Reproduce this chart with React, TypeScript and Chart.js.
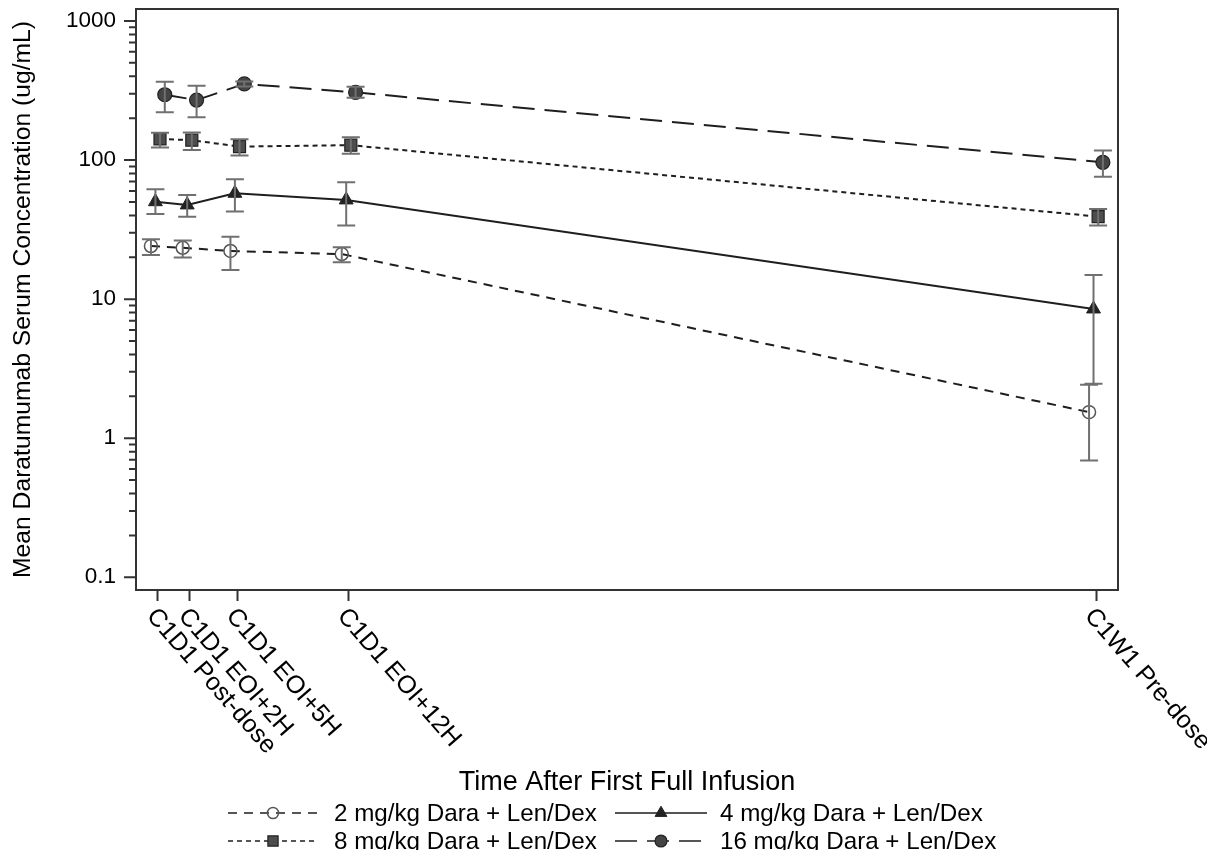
import React, { useEffect, useRef } from 'react';
import { Chart, registerables } from 'chart.js';

Chart.register(...registerables);

const categories = ['C1D1 Post-dose', 'C1D1 EOI+2H', 'C1D1 EOI+5H', 'C1D1 EOI+12H', 'C1W1 Pre-dose'];
const timeHours = [0, 2, 5, 12, 59];
const seriesNames = ['2 mg/kg Dara + Len/Dex', '4 mg/kg Dara + Len/Dex', '8 mg/kg Dara + Len/Dex', '16 mg/kg Dara + Len/Dex'];
const dodgeHours = [-0.44, -0.16, 0.13, 0.43];

const mean2 = [24.1, 23.4, 22.2, 21.1, 1.54];
const upper2 = [27.0, 26.4, 28.1, 23.6, 2.42];
const lower2 = [20.8, 19.9, 16.2, 18.4, 0.69];

const mean4 = [50.2, 47.6, 57.7, 51.7, 8.5];
const upper4 = [61.7, 56.0, 72.8, 69.2, 14.9];
const lower4 = [41.0, 39.2, 42.6, 33.8, 2.46];

const mean8 = [142, 139, 125, 128, 39.2];
const upper8 = [157, 158, 141, 146, 44.5];
const lower8 = [123, 118, 108, 111, 33.8];

const mean16 = [295, 270, 353, 307, 96.4];
const upper16 = [366, 343, 368, 337, 117];
const lower16 = [221, 203, 338, 281, 76];

const yMajorTicks = [0.1, 1, 10, 100, 1000];
const yMinorMultipliers = [2, 3, 4, 5, 6, 7, 8, 9];

const yTitle = 'Mean Daratumumab Serum Concentration (ug/mL)';
const xTitle = 'Time After First Full Infusion';

const means = [mean2, mean4, mean8, mean16];
const uppers = [upper2, upper4, upper8, upper16];
const lowers = [lower2, lower4, lower8, lower16];

const FONT = '"Liberation Sans", Arial, Helvetica, sans-serif';
const LINE = '#1e1e1e';
const FRAME = '#333333';
const ERR = '#707070';
const LABEL_ANGLE = (49 * Math.PI) / 180;

const styles = [
  { dash: [9, 7], pointStyle: 'circle', radius: 6.5, fill: 'rgba(0,0,0,0)', stroke: '#555555', pbw: 1.5 },
  { dash: [], pointStyle: 'triangle', radius: 8, fill: '#222222', stroke: '#222222', pbw: 1 },
  { dash: [5, 4], pointStyle: 'rect', radius: 8.5, fill: '#4d4d4d', stroke: '#222222', pbw: 1.2 },
  { dash: [22, 10], pointStyle: 'circle', radius: 7, fill: '#444444', stroke: '#222222', pbw: 1.2 },
];

function drawMarker(ctx: CanvasRenderingContext2D, style: string, x: number, y: number, r: number, fill: string, stroke: string, lw: number) {
  ctx.save();
  ctx.setLineDash([]);
  ctx.beginPath();
  if (style === 'circle') {
    ctx.arc(x, y, r, 0, Math.PI * 2);
  } else if (style === 'triangle') {
    ctx.moveTo(x, y - r);
    ctx.lineTo(x + r * Math.sin((2 * Math.PI) / 3), y - r * Math.cos((2 * Math.PI) / 3));
    ctx.lineTo(x + r * Math.sin((4 * Math.PI) / 3), y - r * Math.cos((4 * Math.PI) / 3));
    ctx.closePath();
  } else {
    const s = r * Math.SQRT1_2;
    ctx.rect(x - s, y - s, 2 * s, 2 * s);
  }
  ctx.fillStyle = fill;
  ctx.fill();
  ctx.lineWidth = lw;
  ctx.strokeStyle = stroke;
  ctx.stroke();
  ctx.restore();
}

const customPlugin = {
  id: 'customDecor',
  afterDatasetsDraw(chart: any) {
    const ctx = chart.ctx as CanvasRenderingContext2D;
    const xs = chart.scales.x;
    const ys = chart.scales.y;
    ctx.save();
    ctx.strokeStyle = ERR;
    ctx.lineWidth = 2;
    ctx.setLineDash([]);
    for (let i = 0; i < means.length; i++) {
      for (let j = 0; j < timeHours.length; j++) {
        const px = xs.getPixelForValue(timeHours[j] + dodgeHours[i]);
        const pu = ys.getPixelForValue(uppers[i][j]);
        const pl = ys.getPixelForValue(lowers[i][j]);
        ctx.beginPath();
        ctx.moveTo(px, pu);
        ctx.lineTo(px, pl);
        ctx.moveTo(px - 9, pu);
        ctx.lineTo(px + 9, pu);
        ctx.moveTo(px - 9, pl);
        ctx.lineTo(px + 9, pl);
        ctx.stroke();
      }
    }
    ctx.restore();
  },
  afterDraw(chart: any) {
    const ctx = chart.ctx as CanvasRenderingContext2D;
    const ca = chart.chartArea;
    const xs = chart.scales.x;
    const ys = chart.scales.y;
    ctx.save();
    // frame
    ctx.strokeStyle = FRAME;
    ctx.lineWidth = 2;
    ctx.setLineDash([]);
    ctx.strokeRect(ca.left, ca.top, ca.right - ca.left, ca.bottom - ca.top);
    // y ticks (major + minor)
    ctx.beginPath();
    for (const major of yMajorTicks) {
      const py = ys.getPixelForValue(major);
      ctx.moveTo(ca.left - 12, py);
      ctx.lineTo(ca.left, py);
      for (const m of yMinorMultipliers) {
        const v = major * m;
        if (v > ys.max) continue;
        const pm = ys.getPixelForValue(v);
        ctx.moveTo(ca.left - 7, pm);
        ctx.lineTo(ca.left, pm);
      }
    }
    ctx.stroke();
    // x tick labels rotated
    ctx.fillStyle = '#000';
    ctx.font = `25px ${FONT}`;
    ctx.textAlign = 'left';
    ctx.textBaseline = 'middle';
    categories.forEach((c, i) => {
      const px = xs.getPixelForValue(timeHours[i]);
      ctx.save();
      ctx.translate(px - 7, ca.bottom + 22);
      ctx.rotate(LABEL_ANGLE);
      ctx.fillText(c, 0, 0);
      ctx.restore();
    });
    // x title
    ctx.font = `27px ${FONT}`;
    ctx.textAlign = 'center';
    ctx.fillText(xTitle, (ca.left + ca.right) / 2, 775);
    // legend
    const cols = [
      { x0: 220, x1: 310, tx: 326 },
      { x0: 607, x1: 699, tx: 712 },
    ];
    const rows = [805, 833];
    ctx.font = `24.2px ${FONT}`;
    ctx.textAlign = 'left';
    for (let i = 0; i < seriesNames.length; i++) {
      const col = cols[i % 2];
      const y = rows[Math.floor(i / 2)];
      const st = styles[i];
      ctx.save();
      ctx.strokeStyle = '#555555';
      ctx.lineWidth = 2;
      ctx.setLineDash(st.dash);
      ctx.beginPath();
      ctx.moveTo(col.x0, y);
      ctx.lineTo(col.x1, y);
      ctx.stroke();
      ctx.restore();
      drawMarker(ctx, st.pointStyle, (col.x0 + col.x1) / 2, y, st.radius * 0.85, st.fill, st.stroke, st.pbw);
      ctx.fillStyle = '#000';
      ctx.fillText(seriesNames[i], col.tx, y + 1);
    }
    ctx.restore();
  },
};

export default function App() {
  const canvasRef = useRef<HTMLCanvasElement | null>(null);

  useEffect(() => {
    if (!canvasRef.current) return;
    const datasets = seriesNames.map((name, i) => ({
      label: name,
      data: timeHours.map((t, j) => ({ x: t + dodgeHours[i], y: means[i][j] })),
      borderColor: LINE,
      borderWidth: 2,
      borderDash: styles[i].dash,
      pointStyle: styles[i].pointStyle as any,
      pointRadius: styles[i].radius,
      pointBackgroundColor: styles[i].fill,
      pointBorderColor: styles[i].stroke,
      pointBorderWidth: styles[i].pbw,
      tension: 0,
      fill: false,
    }));
    const chart = new Chart(canvasRef.current, {
      type: 'line',
      data: { datasets },
      plugins: [customPlugin],
      options: {
        animation: false,
        responsive: false,
        maintainAspectRatio: false,
        layout: { autoPadding: false, padding: { top: 1, right: 89, bottom: 0, left: 0 } },
        plugins: { legend: { display: false }, tooltip: { enabled: false } },
        scales: {
          x: {
            type: 'linear',
            min: -1.38,
            max: 60.38,
            border: { display: false },
            grid: { display: true, drawOnChartArea: false, drawTicks: true, tickLength: 11, tickColor: FRAME, tickWidth: 2, color: FRAME },
            ticks: { display: false },
            afterBuildTicks: (scale: any) => {
              scale.ticks = timeHours.map((v) => ({ value: v }));
            },
            afterFit: (scale: any) => {
              scale.height = 260;
              scale.paddingLeft = 0;
              scale.paddingRight = 0;
            },
          },
          y: {
            type: 'logarithmic',
            min: 0.081,
            max: 1220,
            border: { display: false },
            grid: { display: false, drawTicks: false },
            ticks: {
              padding: 20,
              color: '#000',
              font: { family: FONT, size: 22.5 },
              callback: (v: any) => String(v),
            },
            afterBuildTicks: (scale: any) => {
              scale.ticks = yMajorTicks.map((v) => ({ value: v, major: false }));
            },
            afterFit: (scale: any) => {
              scale.width = 128;
              scale.paddingTop = 0;
              scale.paddingBottom = 0;
            },
            title: {
              display: true,
              text: yTitle,
              color: '#000',
              font: { family: FONT, size: 24.7 },
              padding: { top: 0, bottom: 0 },
            },
          },
        },
      },
    });
    return () => chart.destroy();
  }, []);

  return (
    <div style={{ width: 1199, height: 842 }}>
      <canvas ref={canvasRef} width={1199} height={842} style={{ display: 'block' }} />
    </div>
  );
}
